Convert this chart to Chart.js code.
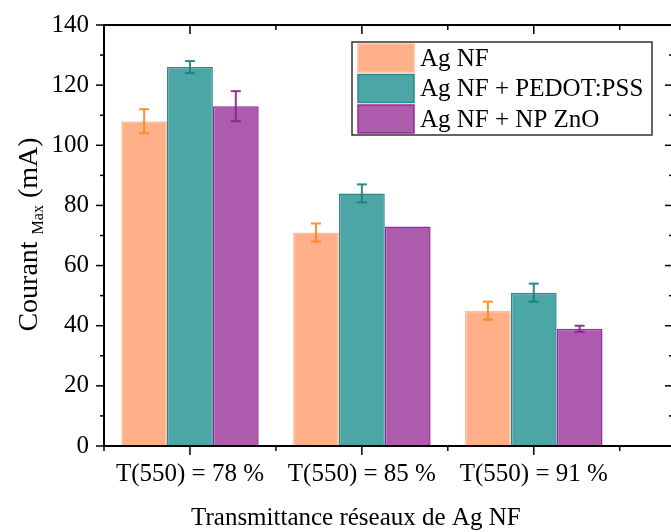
<!DOCTYPE html>
<html>
<head>
<meta charset="utf-8">
<script src="https://cdn.jsdelivr.net/npm/chart.js@4"></script>
<style>
html, body { margin: 0; padding: 0; overflow: hidden; background: #fff; }
#wrap { width: 680px; height: 532px; }
</style>
</head>
<body>
<div id="wrap"><canvas id="grafica" width="680" height="532"></canvas></div>
<script>
// data
const categories = ["T(550) = 78 %", "T(550) = 85 %", "T(550) = 91 %"];
const agNF = [108, 71, 45];
const agNFErr = [4, 3, 3];
const agNFPedot = [126, 84, 51];
const agNFPedotErr = [2, 3, 3];
const agNFZnO = [113, 73, 39];
const agNFZnOErr = [5, 0, 1];
const yTicks = [0, 20, 40, 60, 80, 100, 120, 140];

const serif = "'Liberation Serif', 'Times New Roman', serif";
const errs = [agNFErr, agNFPedotErr, agNFZnOErr];
const errColors = ["rgba(255,135,25,0.9)", "rgba(20,130,125,0.9)", "rgba(140,30,140,0.9)"];

function line(ctx, x1, y1, x2, y2) {
    ctx.beginPath();
    ctx.moveTo(x1, y1);
    ctx.lineTo(x2, y2);
    ctx.stroke();
}

// box around the plot with ticks on all four sides
const framePlugin = {
    id: "frame",
    afterDatasetsDraw(chart) {
        const { ctx, chartArea: a, scales: { x, y } } = chart;
        ctx.save();
        ctx.strokeStyle = "#000";
        ctx.lineWidth = 2;
        ctx.strokeRect(a.left, a.top, a.right - a.left, a.bottom - a.top);
        ctx.lineWidth = 1.5;
        for (let v = 0; v <= 140; v += 10) {
            const py = y.getPixelForValue(v);
            const len = v % 20 === 0 ? 8 : 4;
            line(ctx, a.left - len, py, a.left, py);
            line(ctx, a.right - len, py, a.right, py);
        }
        for (let v = -0.5; v <= x.max; v += 0.5) {
            const px = x.getPixelForValue(v);
            const len = Number.isInteger(v) ? 9 : 5;
            line(ctx, px, a.bottom, px, a.bottom + len);
            line(ctx, px, a.top, px, a.top + len);
        }
        ctx.restore();
    }
};

// error bars
const errorPlugin = {
    id: "errbars",
    afterDatasetsDraw(chart) {
        const { ctx, scales: { y } } = chart;
        ctx.save();
        ctx.lineWidth = 2;
        chart.data.datasets.forEach((ds, i) => {
            const meta = chart.getDatasetMeta(i);
            meta.data.forEach((bar, j) => {
                const e = errs[i][j];
                if (!e) return;
                const v = ds.data[j].y;
                const top = y.getPixelForValue(v + e);
                const bot = y.getPixelForValue(v - e);
                ctx.strokeStyle = errColors[i];
                line(ctx, bar.x, top, bar.x, bot);
                line(ctx, bar.x - 5, top, bar.x + 5, top);
                line(ctx, bar.x - 5, bot, bar.x + 5, bot);
            });
        });
        ctx.restore();
    }
};

// legend box, axis titles
const textPlugin = {
    id: "texts",
    afterDraw(chart) {
        const { ctx, chartArea: a, scales: { x } } = chart;
        ctx.save();
        // legend
        ctx.strokeStyle = "#333";
        ctx.lineWidth = 1.5;
        ctx.strokeRect(352, 42, 300, 93);
        ctx.font = "25px " + serif;
        ctx.fillStyle = "#000";
        ctx.textBaseline = "middle";
        chart.data.datasets.forEach((ds, i) => {
            const sy = 44 + i * 30.5;
            ctx.fillStyle = ds.backgroundColor;
            ctx.fillRect(358, sy, 56, 28);
            ctx.strokeStyle = ds.borderColor;
            ctx.lineWidth = 1.5;
            ctx.strokeRect(358, sy, 56, 28);
            ctx.fillStyle = "#000";
            ctx.fillText(ds.label, 420, sy + 15);
        });

        // x title
        ctx.textAlign = "center";
        ctx.textBaseline = "alphabetic";
        ctx.fillText("Transmittance réseaux de Ag NF", x.getPixelForValue(1) - 6, 525);

        // y title with subscript
        const big = "28px " + serif, small = "16px " + serif;
        ctx.font = big;
        const w1 = ctx.measureText("Courant ").width;
        const w3 = ctx.measureText(" (mA)").width;
        ctx.font = small;
        const w2 = ctx.measureText("Max").width;
        const total = w1 + w2 + w3;
        ctx.translate(37, (a.top + a.bottom) / 2 - 1);
        ctx.rotate(-Math.PI / 2);
        ctx.textAlign = "left";
        let cx = -total / 2;
        ctx.font = big;
        ctx.fillText("Courant ", cx, 0);
        cx += w1;
        ctx.font = small;
        ctx.fillText("Max", cx, 6);
        cx += w2;
        ctx.font = big;
        ctx.fillText(" (mA)", cx, 0);
        ctx.restore();
    }
};

const tickFont = { family: serif, size: 25 };

new Chart(document.getElementById("grafica").getContext("2d"), {
    type: "bar",
    data: {
        datasets: [
            { label: "Ag NF", data: agNF.map((v, i) => ({ x: i, y: v })),
              backgroundColor: "rgb(255,176,137)", borderColor: "rgb(255,190,160)", borderWidth: 1.5 },
            { label: "Ag NF + PEDOT:PSS", data: agNFPedot.map((v, i) => ({ x: i, y: v })),
              backgroundColor: "rgb(77,166,166)", borderColor: "rgb(40,140,135)", borderWidth: 1.5 },
            { label: "Ag NF + NP ZnO", data: agNFZnO.map((v, i) => ({ x: i, y: v })),
              backgroundColor: "rgb(173,92,173)", borderColor: "rgb(145,45,150)", borderWidth: 1.5 }
        ]
    },
    options: {
        responsive: false,
        animation: false,
        devicePixelRatio: 1,
        categoryPercentage: 0.8,
        barPercentage: 1.0,
        layout: { padding: { top: 25, right: 7, left: 0, bottom: 0 } },
        plugins: { legend: { display: false }, tooltip: { enabled: false } },
        scales: {
            x: {
                type: "linear",
                offset: false,
                min: -0.5,
                max: 2.81,
                grid: { display: false, drawTicks: false, offset: false },
                border: { display: false },
                afterBuildTicks: s => { s.ticks = categories.map((c, i) => ({ value: i })); },
                ticks: { callback: v => categories[v], font: tickFont, color: "#000", padding: 13, maxRotation: 0, autoSkip: false },
                afterFit: s => { s.height = 86; }
            },
            y: {
                min: 0,
                max: 140,
                grid: { display: false, drawTicks: true, tickLength: 15 },
                border: { display: false },
                afterBuildTicks: s => { s.ticks = yTicks.map(v => ({ value: v })); },
                ticks: { font: tickFont, color: "#000", padding: 0 },
                afterFit: s => { s.width = 104; }
            }
        }
    },
    plugins: [framePlugin, errorPlugin, textPlugin]
});
</script>
</body>
</html>
